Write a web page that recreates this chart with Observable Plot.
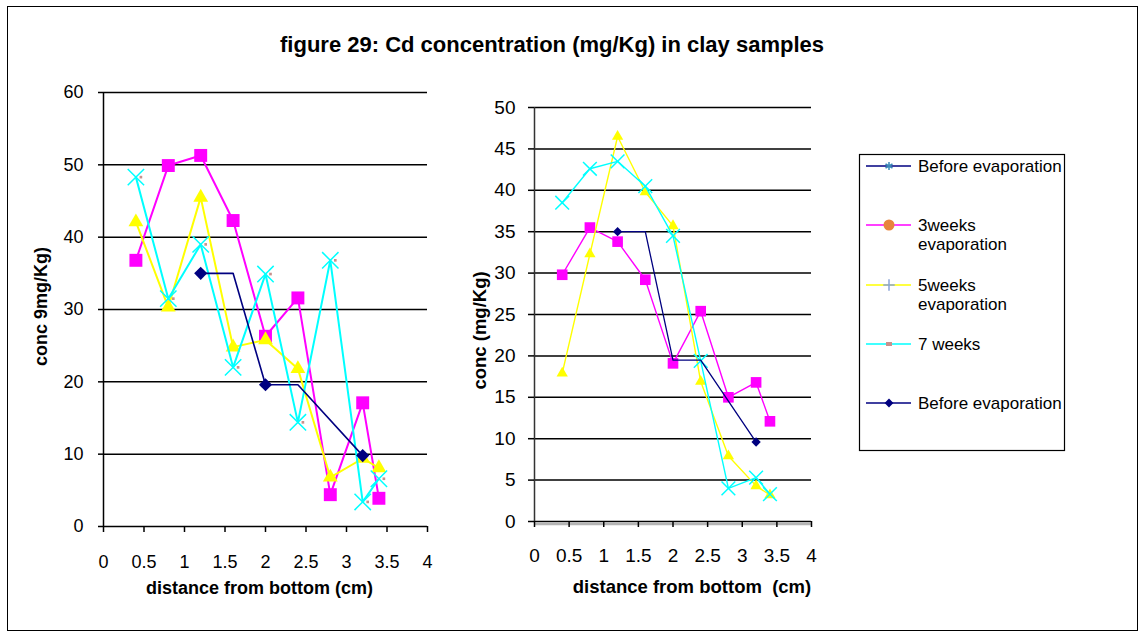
<!DOCTYPE html>
<html><head><meta charset="utf-8">
<script src="https://cdn.jsdelivr.net/npm/d3@7"></script>
<script src="https://cdn.jsdelivr.net/npm/@observablehq/plot@0.6"></script>
<style>
html,body{margin:0;padding:0;background:#fff;}
#wrap{position:relative;width:1146px;height:636px;overflow:hidden;font-family:"Liberation Sans",Arial,sans-serif;color:#000;}
#frame{position:absolute;left:7px;top:6px;width:1129px;height:623px;border:1px solid #000;}
#title{position:absolute;left:0;top:32px;width:1104px;text-align:center;font-size:22px;line-height:26px;font-weight:bold;}
.chart{position:absolute;top:0;}
#legend{position:absolute;left:0;top:0;}
</style></head>
<body>
<div id="wrap">
  <div id="frame"></div>
  <div id="title">figure 29: Cd concentration (mg/Kg) in clay samples</div>
  <div id="left" class="chart" style="left:0px"></div>
  <div id="right" class="chart" style="left:470px"></div>
  <svg id="legend" width="1146" height="636"></svg>
</div>
<script>
// ---------- data ----------
const distance = [0.4, 0.8, 1.2, 1.6, 2.0, 2.4, 2.8, 3.2, 3.4];
const beforeDistance = [1.2, 1.6, 2.0, 2.4, 3.2];
const xTicks = [0, 0.5, 1, 1.5, 2, 2.5, 3, 3.5, 4];
const xTickLabels = ["0", "0.5", "1", "1.5", "2", "2.5", "3", "3.5", "4"];
const yTicksLeft = [0, 10, 20, 30, 40, 50, 60];
const yTicksRight = [0, 5, 10, 15, 20, 25, 30, 35, 40, 45, 50];

// left chart
const weeks3Left = [36.8, 49.9, 51.3, 42.3, 26.3, 31.6, 4.4, 17.1, 3.9];
const weeks5Left = [42.1, 30.3, 45.5, 24.8, 25.8, 21.8, 6.8, 9.4, 8.1];
const weeks7Left = [48.3, 31.5, 39.0, 22.0, 34.9, 14.4, 36.8, 3.4, 6.6];
const beforeLeft = [35, 35, 19.6, 19.6, 9.8];
const beforeMarkedLeft = [1.2, 2.0, 3.2];

// right chart
const weeks3Right = [29.8, 35.5, 33.8, 29.2, 19.1, 25.4, 15.0, 16.8, 12.1];
const weeks5Right = [17.9, 32.3, 46.5, 39.8, 35.7, 16.9, 7.9, 4.3, 3.2];
const weeks7Right = [38.5, 42.6, 43.5, 40.5, 34.5, 19.4, 4.0, 5.3, 3.3];
const beforeRight = [35, 35, 19.5, 19.5, 9.6];
const beforeMarkedRight = [1.2, 3.2];

const seriesLabels = ["Before evaporation", "3weeks evaporation", "5weeks evaporation", "7 weeks", "Before evaporation"];
const xTitleLeft = "distance from bottom (cm)";
const yTitleLeft = "conc 9mg/Kg)";
const xTitleRight = "distance from bottom \u00a0(cm)";
const yTitleRight = "conc (mg/Kg)";

// ---------- helpers ----------
const rows = (xs, ys) => xs.map((x, i) => ({x, y: ys[i]}));
const MAG = "#FF00FF", YEL = "#FFFF00", CYA = "#00FFFF", NAVY = "#000080";

function makeChart(c) {
  const beforeRows = rows(beforeDistance, c.before);
  const beforeMarks = beforeRows.filter(d => c.beforeMarked.includes(d.x));
  return Plot.plot({
    width: c.width, height: c.height,
    marginLeft: c.ml, marginRight: c.mr, marginTop: c.mt, marginBottom: c.mb,
    x: {domain: [0, 4]},
    y: {domain: c.yDomain},
    style: {fontFamily: '"Liberation Sans", Arial, sans-serif', fontSize: c.fontSize + "px", color: "#000", background: "transparent", overflow: "visible"},
    marks: [
      Plot.ruleY(c.yTicks, {stroke: "#000", strokeWidth: 1.5}),
      ...(c.shadow ? [Plot.ruleY([0], {stroke: "#b4b4b4", strokeWidth: 2.5, dy: 2.5})] : []),
      Plot.ruleX([0], {stroke: c.axisColor, strokeWidth: 1.5}),
      Plot.axisY({ticks: c.yTicks, tickSize: c.yTickSize, tickPadding: c.yTickPadding, strokeWidth: 1.5, label: null, tickFormat: d => String(d), fontSize: c.fontSize}),
      Plot.axisX({ticks: xTicks, tickSize: 6, tickPadding: c.xTickPadding, strokeWidth: 1.5, label: null, tickFormat: d => xTickLabels[xTicks.indexOf(d)], fontSize: c.fontSize}),

      Plot.line(rows(distance, c.w3), {x: "x", y: "y", stroke: MAG, strokeWidth: c.lw}),
      Plot.dot(rows(distance, c.w3), {x: "x", y: "y", symbol: "square", r: c.sq, fill: MAG}),

      Plot.line(rows(distance, c.w5), {x: "x", y: "y", stroke: YEL, strokeWidth: c.lw}),
      Plot.dot(rows(distance, c.w5), {x: "x", y: "y", symbol: "triangle", r: c.tri, fill: YEL}),

      Plot.line(rows(distance, c.w7), {x: "x", y: "y", stroke: CYA, strokeWidth: c.lw}),
      Plot.dot(rows(distance, c.w7), {x: "x", y: "y", symbol: "times", r: c.tim, stroke: CYA, strokeWidth: 1.5}),
      ...(c.dash ? [Plot.dot(rows(distance, c.w7), {x: "x", y: "y", symbol: "square", r: 1.5, fill: "#c8908c", dx: 5})] : []),

      Plot.line(beforeRows, {x: "x", y: "y", stroke: NAVY, strokeWidth: c.lwNavy}),
      Plot.dot(beforeMarks, {x: "x", y: "y", symbol: "diamond2", r: c.dia, fill: NAVY}),

      Plot.text([c.xTitle], {frameAnchor: "bottom", text: d => d, dx: c.xTitleDx, dy: c.xTitleDy, lineAnchor: "bottom", textAnchor: "middle", fontWeight: "bold", fontSize: c.titleSize}),
      Plot.text([c.yTitle], {frameAnchor: "left", text: d => d, rotate: -90, dx: c.yTitleDx, dy: c.yTitleDy, lineAnchor: "middle", textAnchor: "middle", fontWeight: "bold", fontSize: c.titleSize})
    ]
  });
}

document.getElementById("left").append(makeChart({
  width: 440, height: 610, ml: 103, mr: 13, mt: 92, mb: 84,
  yDomain: [0, 60], yTicks: yTicksLeft, fontSize: 18, titleSize: 18,
  yTickSize: 5, yTickPadding: 15, xTickPadding: 23, axisColor: "#000", shadow: false,
  w3: weeks3Left, w5: weeks5Left, w7: weeks7Left, before: beforeLeft, beforeMarked: beforeMarkedLeft,
  lw: 2, lwNavy: 1.6, sq: 7.3, tri: 5.5, tim: 7.5, dia: 5.9, dash: true,
  xTitle: xTitleLeft, yTitle: yTitleLeft,
  xTitleDx: -6, xTitleDy: 67, yTitleDx: -62, yTitleDy: -3
}));

document.getElementById("right").append(makeChart({
  width: 360, height: 610, ml: 64, mr: 19, mt: 107, mb: 89,
  yDomain: [0, 50], yTicks: yTicksRight, fontSize: 19, titleSize: 18.5,
  yTickSize: 6, yTickPadding: 13, xTickPadding: 21, axisColor: "#333", shadow: true,
  w3: weeks3Right, w5: weeks5Right, w7: weeks7Right, before: beforeRight, beforeMarked: beforeMarkedRight,
  lw: 1.4, lwNavy: 1.3, sq: 6, tri: 4.2, tim: 6.3, dia: 4.2, dash: false,
  xTitle: xTitleRight, yTitle: yTitleRight,
  xTitleDx: 19, xTitleDy: 71, yTitleDx: -54, yTitleDy: 16
}));

// ---------- legend ----------
const lg = d3.select("#legend");
lg.append("rect").attr("x", 859.5).attr("y", 154.5).attr("width", 205).attr("height", 296)
  .attr("fill", "#fff").attr("stroke", "#000").attr("stroke-width", 1.2);
const legendStyle = [
  {stroke: NAVY, marker: d3.symbolAsterisk, mfill: "none", mstroke: "#3a8ab8", size: 45},
  {stroke: MAG, marker: d3.symbolCircle, mfill: "#e8843c", mstroke: "none", size: 95},
  {stroke: YEL, marker: d3.symbolPlus, mfill: "none", mstroke: "#8aa4d6", size: 45, stroke2: true},
  {stroke: CYA, marker: null, mfill: "#c8908c"},
  {stroke: NAVY, marker: d3.symbolDiamond2, mfill: NAVY, mstroke: "none", size: 50}
];
const legendY = [166, 225, 285, 344, 403];
seriesLabels.forEach((label, i) => {
  const st = legendStyle[i], y = legendY[i];
  lg.append("line").attr("x1", 866).attr("x2", 911).attr("y1", y).attr("y2", y)
    .attr("stroke", st.stroke).attr("stroke-width", 1.6);
  if (st.marker) {
    lg.append("path").attr("transform", `translate(889,${y})`)
      .attr("d", d3.symbol(st.marker, st.size)())
      .attr("fill", st.mfill).attr("stroke", st.mstroke).attr("stroke-width", 1.5);
  } else {
    lg.append("rect").attr("x", 886).attr("y", y - 2).attr("width", 6).attr("height", 4).attr("fill", st.mfill);
  }
  const parts = label.startsWith("Before") || !label.includes("evaporation") ? [label] : label.split(" ");
  parts.forEach((p, j) => {
    lg.append("text").attr("x", 918).attr("y", y + j * 19.5).attr("dy", "0.35em")
      .attr("font-size", 17).attr("font-family", '"Liberation Sans", Arial, sans-serif')
      .attr("fill", "#000").text(p);
  });
});
</script>
</body></html>
